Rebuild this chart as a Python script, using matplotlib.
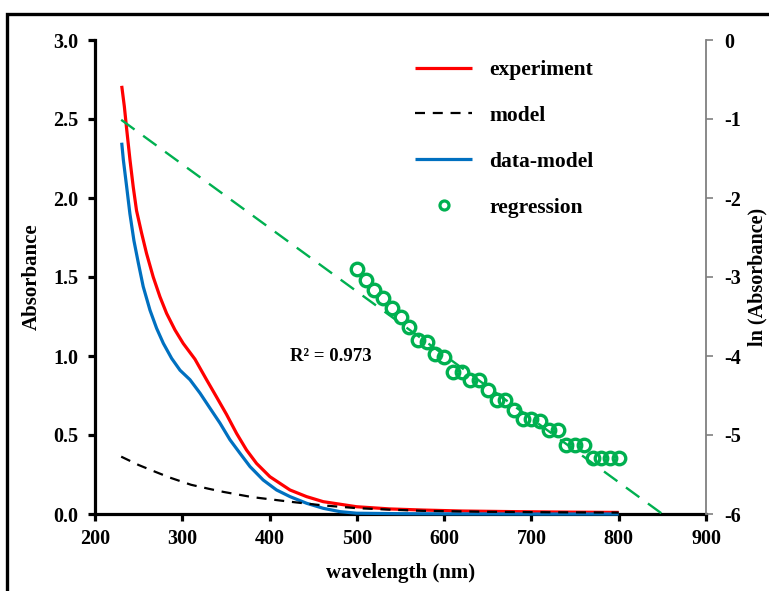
import matplotlib
matplotlib.use("Agg")
import matplotlib.pyplot as plt
from matplotlib.patches import Rectangle
from matplotlib.lines import Line2D

# ---- data ----
exp_nm = [230.6, 233.6, 236.2, 240.1, 243.8, 247.6, 253.3, 259, 266.7, 274.4, 282, 291.6,
          301, 314.5, 327.8, 339.3, 350.7, 362.2, 373.6, 385.1, 400.4, 423.4, 442.4, 461.5,
          499.7, 538, 576, 620, 680, 740, 800]
exp_abs = [2.71, 2.58, 2.44, 2.24, 2.07, 1.92, 1.78, 1.65, 1.50, 1.375, 1.27, 1.165,
           1.08, 0.98, 0.85, 0.74, 0.63, 0.51, 0.405, 0.32, 0.236, 0.152, 0.11, 0.078,
           0.046, 0.032, 0.025, 0.019, 0.015, 0.012, 0.010]

dm_nm = [230.6, 232.5, 236.3, 240, 244.6, 249.6, 255.2, 263, 270.6, 278.3, 287.8, 297.4,
         308.8, 320.3, 331.7, 343.2, 354.6, 366, 377.6, 392.7, 408, 423.4, 442.4, 461.5,
         480.6, 499.7, 550, 600, 700, 800]
dm_abs = [2.35, 2.24, 2.07, 1.90, 1.73, 1.59, 1.44, 1.29, 1.175, 1.08, 0.985, 0.91,
          0.85, 0.765, 0.67, 0.575, 0.47, 0.385, 0.30, 0.215, 0.152, 0.11, 0.068, 0.036,
          0.015, 0.005, 0.002, 0.001, 0.0, 0.0]

model_nm = [230, 250, 270, 286, 310, 330, 347, 380, 423, 460, 500, 540, 576, 650, 720, 800]
model_abs = [0.363, 0.31, 0.265, 0.23, 0.185, 0.16, 0.14, 0.107, 0.078, 0.055, 0.037, 0.027,
             0.020, 0.014, 0.011, 0.009]

reg_nm = list(range(500, 801, 10))
reg_ln = [-2.90, -3.04, -3.16, -3.27, -3.39, -3.50, -3.63, -3.80, -3.82, -3.97, -4.01,
          -4.20, -4.20, -4.30, -4.30, -4.43, -4.56, -4.56, -4.68, -4.80, -4.80, -4.82,
          -4.94, -4.94, -5.13, -5.13, -5.13, -5.29, -5.29, -5.29, -5.29]

fit_nm = [230, 850]
fit_ln = [-1.01, -6.0]

x_ticks = [200, 300, 400, 500, 600, 700, 800, 900]
left_ticks = [0.0, 0.5, 1.0, 1.5, 2.0, 2.5, 3.0]
right_ticks = [0, -1, -2, -3, -4, -5, -6]

# ---- style ----
plt.rcParams['font.family'] = ['Liberation Serif', 'DejaVu Serif']
plt.rcParams['font.weight'] = 'bold'
plt.rcParams['font.size'] = 14.5

W, H = 769, 591
fig = plt.figure(figsize=(W / 100, H / 100), dpi=100)
ax = fig.add_axes([95 / W, 1 - 514 / H, (706 - 95) / W, (514 - 40) / H])
ax2 = ax.twinx()

RED = '#ff0000'
BLUE = '#0070c0'
GREEN = '#00b050'
GREY = '#808080'

l_exp, = ax.plot(exp_nm, exp_abs, color=RED, lw=2.3, zorder=3, clip_on=False,
                 solid_capstyle='butt', solid_joinstyle='round')
l_dm, = ax.plot(dm_nm, dm_abs, color=BLUE, lw=2.3, zorder=4, clip_on=False,
                solid_capstyle='butt', solid_joinstyle='round')
l_mod, = ax.plot(model_nm, model_abs, color='black', lw=1.6, ls=(0, (4.5, 3.5)), zorder=5,
                 clip_on=False)

ax2.plot(fit_nm, fit_ln, color=GREEN, lw=1.7, ls=(0, (7, 4.5)), zorder=3)
l_reg, = ax2.plot(reg_nm, reg_ln, ls='none', marker='o', ms=9, mfc='none', mec=GREEN,
                  mew=2.4, zorder=4)

ax.set_xlim(200, 900)
ax.set_ylim(0, 3.0)
ax2.set_ylim(-6, 0)
ax.set_xticks(x_ticks)
ax.set_yticks(left_ticks)
ax.set_yticklabels([f"{v:.1f}" for v in left_ticks])
ax2.set_yticks(right_ticks)
ax2.set_yticklabels([str(v) for v in right_ticks])

for a in (ax, ax2):
    a.spines['top'].set_visible(False)
ax.spines['right'].set_visible(False)
ax2.spines['left'].set_visible(False)
ax2.spines['bottom'].set_visible(False)
ax.spines['left'].set_linewidth(2.3)
ax.spines['bottom'].set_linewidth(2.3)
ax2.spines['right'].set_color(GREY)
ax2.spines['right'].set_linewidth(1.3)

ax.tick_params(axis='x', direction='out', length=5, width=2.3, labelsize=14.5, pad=6)
ax.tick_params(axis='y', direction='out', length=5, width=2.3, labelsize=14.5, pad=7)
ax2.tick_params(axis='y', direction='out', length=5, width=1.2, color=GREY, labelsize=14.5,
                pad=8)
for lab in ax.get_xticklabels() + ax.get_yticklabels() + ax2.get_yticklabels():
    lab.set_fontweight('bold')

ax.set_xlabel('wavelength (nm)', fontsize=15, fontweight='bold', labelpad=10)
ax.set_ylabel('Absorbance', fontsize=15, fontweight='bold', labelpad=8)
ax2.set_ylabel('ln (Absorbance)', fontsize=14.5, fontweight='bold', labelpad=5)

ax2.text(423, -4.01, 'R² = 0.973', fontsize=13.5, fontweight='bold', ha='left', va='center')

leg_reg = Line2D([], [], ls='none', marker='o', ms=6.5, mfc='none', mec=GREEN, mew=2.3)
leg = ax2.legend([l_exp, l_mod, l_dm, leg_reg], ['experiment', 'model', 'data-model', 'regression'],
                 loc='upper left', bbox_to_anchor=((415 - 95) / 611, (514 - 60) / 474),
                 frameon=False, borderaxespad=0, borderpad=0, handlelength=2.65,
                 handletextpad=0.8, labelspacing=1.2, prop={'weight': 'bold', 'size': 15.5})

fig.patches.append(Rectangle((7 / W, -0.2), 1.3, 1 - 14 / H + 0.2, transform=fig.transFigure,
                             fill=False, lw=2.4, ec='black'))

fig.savefig('out.png', dpi=100)
